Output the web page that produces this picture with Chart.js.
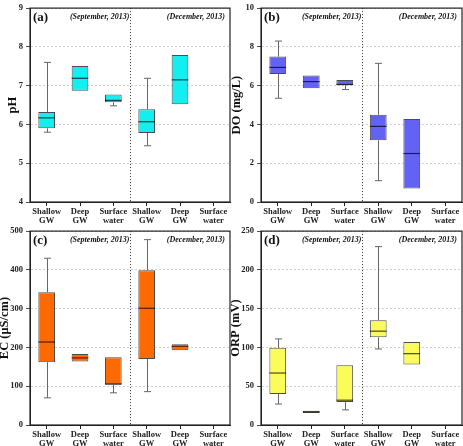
<!DOCTYPE html>
<html>
<head>
<meta charset="utf-8">
<script src="https://cdn.jsdelivr.net/npm/chart.js@4"></script>
<style>
  body { margin: 0; background: #fff; }
  .wrap { position: relative; width: 463px; height: 446px; }
  canvas { position: absolute; }
</style>
</head>
<body>
<div class="wrap">
  <canvas id="chartA" width="231" height="223" style="left:0;top:0"></canvas>
  <canvas id="chartB" width="232" height="223" style="left:231px;top:0"></canvas>
  <canvas id="chartC" width="231" height="223" style="left:0;top:223px"></canvas>
  <canvas id="chartD" width="232" height="223" style="left:231px;top:223px"></canvas>
</div>
<script>
// categories: Sep 2013 x3, Dec 2013 x3
const categories = [['Shallow', 'GW'], ['Deep', 'GW'], ['Surface', 'water'],
                    ['Shallow', 'GW'], ['Deep', 'GW'], ['Surface', 'water']];

// pH
const phMin = [5.8, 6.87, 6.48, 5.45, 6.52, null];
const phQ1  = [5.9, 6.87, 6.57, 5.78, 6.52, null];
const phMed = [6.17, 7.19, 6.62, 6.07, 7.15, null];
const phQ3  = [6.32, 7.51, 6.77, 6.39, 7.79, null];
const phMax = [7.6, 7.51, 6.77, 7.19, 7.79, null];

// DO (mg/L)
const doMin = [5.35, 5.87, 5.8, 1.1, 0.7, null];
const doQ1  = [6.6, 5.87, 6.02, 3.18, 0.7, null];
const doMed = [6.94, 6.21, 6.06, 3.9, 2.5, null];
const doQ3  = [7.5, 6.53, 6.29, 4.5, 4.28, null];
const doMax = [8.3, 6.53, 6.29, 7.15, 4.28, null];

// EC (uS/cm)
const ecMin = [70, 164, 83, 86, 193, null];
const ecQ1  = [162, 164, 104, 170, 193, null];
const ecMed = [214, 173, 106, 301, 203, null];
const ecQ3  = [342, 183, 175, 399, 208, null];
const ecMax = [430, 183, 175, 478, 208, null];

// ORP (mV)
const orpMin = [27, 15.5, 19.5, 98, 78, null];
const orpQ1  = [40, 15.5, 29.5, 113, 78, null];
const orpMed = [67, 17, 32, 121, 92, null];
const orpQ3  = [99.5, 18.5, 77, 135, 107, null];
const orpMax = [111, 18.5, 77, 230, 107, null];

const serif = "'Liberation Serif', 'Times New Roman', serif";

// whiskers, medians, separator, frame, panel texts
function boxExtras(st, tag) {
  return {
    id: 'boxExtras',
    afterDatasetsDraw(chart) {
      const ctx = chart.ctx, ys = chart.scales.y, xs = chart.scales.x;
      const area = chart.chartArea;
      const meta = chart.getDatasetMeta(0);
      ctx.save();
      meta.data.forEach(function (bar, i) {
        if (st.med[i] == null) return;
        const cx = Math.round(bar.x) + 0.5;
        ctx.strokeStyle = '#666';
        ctx.lineWidth = 1;
        ctx.beginPath();
        if (st.min[i] < st.q1[i]) {
          ctx.moveTo(cx, ys.getPixelForValue(st.q1[i]));
          ctx.lineTo(cx, ys.getPixelForValue(st.min[i]));
          ctx.moveTo(cx - 3.5, ys.getPixelForValue(st.min[i]));
          ctx.lineTo(cx + 3.5, ys.getPixelForValue(st.min[i]));
        }
        if (st.max[i] > st.q3[i]) {
          ctx.moveTo(cx, ys.getPixelForValue(st.q3[i]));
          ctx.lineTo(cx, ys.getPixelForValue(st.max[i]));
          ctx.moveTo(cx - 3.5, ys.getPixelForValue(st.max[i]));
          ctx.lineTo(cx + 3.5, ys.getPixelForValue(st.max[i]));
        }
        ctx.stroke();
        // median
        ctx.strokeStyle = 'rgba(0,0,0,0.7)';
        ctx.lineWidth = 1.2;
        ctx.beginPath();
        ctx.moveTo(bar.x - bar.width / 2, ys.getPixelForValue(st.med[i]));
        ctx.lineTo(bar.x + bar.width / 2, ys.getPixelForValue(st.med[i]));
        ctx.stroke();
      });

      // Sep / Dec separator
      const sx = Math.round((xs.getPixelForValue(2) + xs.getPixelForValue(3)) / 2) + 0.5;
      ctx.strokeStyle = '#333';
      ctx.lineWidth = 1;
      ctx.setLineDash([1, 2]);
      ctx.beginPath();
      ctx.moveTo(sx, area.top);
      ctx.lineTo(sx, area.bottom);
      ctx.stroke();
      ctx.setLineDash([]);

      // frame
      ctx.strokeStyle = '#222';
      ctx.lineWidth = 1.2;
      ctx.strokeRect(area.left, area.top, area.right - area.left, area.bottom - area.top);

      // texts
      ctx.fillStyle = '#111';
      ctx.textBaseline = 'middle';
      ctx.font = 'bold 13px ' + serif;
      ctx.textAlign = 'left';
      ctx.fillText(tag, area.left + 3, area.top + 10);
      ctx.font = 'italic bold 8px ' + serif;
      ctx.textAlign = 'right';
      ctx.fillText('(September, 2013)', sx - 1, area.top + 9);
      ctx.fillText('(December, 2013)', area.right - 5, area.top + 9);
      ctx.restore();
    }
  };
}

function makeChart(id, tag, yTitle, yMin, yMax, step, st, fill, titlePad) {
  const boxes = st.q1.map(function (v, i) { return v == null ? null : [v, st.q3[i]]; });
  return new Chart(document.getElementById(id), {
    type: 'bar',
    data: {
      labels: categories,
      datasets: [{
        data: boxes,
        backgroundColor: fill,
        borderColor: 'rgba(0,0,0,0.7)',
        borderWidth: 1,
        borderSkipped: false,
        barPercentage: 0.5,
        categoryPercentage: 1
      }]
    },
    options: {
      responsive: false,
      animation: false,
      devicePixelRatio: 1,
      layout: { padding: { top: 6, right: 1, left: 0, bottom: 0 } },
      plugins: { legend: { display: false }, tooltip: { enabled: false } },
      scales: {
        x: {
          grid: { drawOnChartArea: false, offset: false, tickLength: 4, tickColor: '#222' },
          border: { color: '#222', width: 1 },
          ticks: {
            font: { family: serif, size: 8.5, weight: 'bold', lineHeight: 1.05 },
            color: '#222', padding: 1, maxRotation: 0, autoSkip: false
          },
          afterFit: function (s) { s.height = 21; }
        },
        y: {
          min: yMin, max: yMax,
          ticks: {
            stepSize: step,
            font: { family: serif, size: 8.5, weight: 'bold' },
            color: '#222', padding: 3
          },
          grid: { color: '#c4c4c4', lineWidth: 0.8, tickLength: 4, tickColor: '#222' },
          border: { color: '#222', width: 1, dash: [2, 2] },
          title: {
            display: true, text: yTitle, color: '#111',
            font: { family: serif, size: 12.5, weight: 'bold', lineHeight: 1 },
            padding: { top: titlePad, bottom: 0 }
          },
          afterFit: function (s) { s.width = 30; }
        }
      }
    },
    plugins: [boxExtras(st, tag)]
  });
}

makeChart('chartA', '(a)', 'pH', 4, 9, 1,
  { min: phMin, q1: phQ1, med: phMed, q3: phQ3, max: phMax }, '#14eeee', 7);
makeChart('chartB', '(b)', 'DO (mg/L)', 0, 10, 2,
  { min: doMin, q1: doQ1, med: doMed, q3: doQ3, max: doMax }, '#6262f4', 0);
makeChart('chartC', '(c)', 'EC (\u03bcS/cm)', 0, 500, 100,
  { min: ecMin, q1: ecQ1, med: ecMed, q3: ecQ3, max: ecMax }, '#ff6a00', -1);
makeChart('chartD', '(d)', 'ORP (mV)', 0, 250, 50,
  { min: orpMin, q1: orpQ1, med: orpMed, q3: orpQ3, max: orpMax }, '#fbfb5a', -1);
</script>
</body>
</html>
